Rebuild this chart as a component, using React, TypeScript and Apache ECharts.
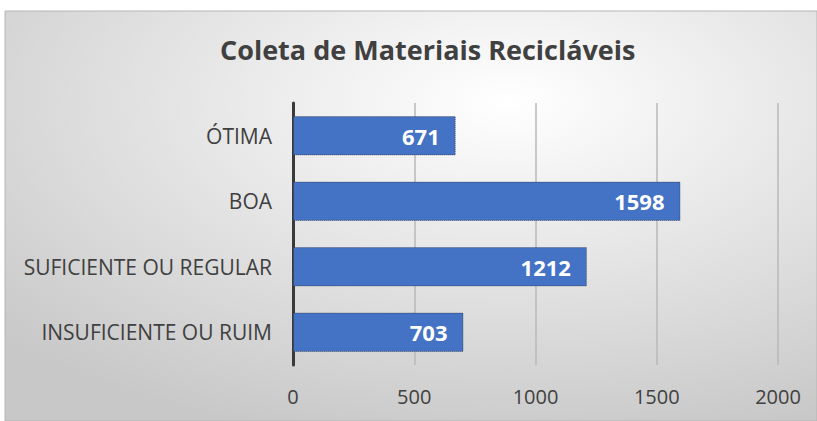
import React, { useEffect, useRef } from "react";
import * as echarts from "echarts";

const categories = ["ÓTIMA", "BOA", "SUFICIENTE OU REGULAR", "INSUFICIENTE OU RUIM"];
const values = [671, 1598, 1212, 703];
const titleText = "Coleta de Materiais Recicláveis";

const FONT = "'Open Sans', 'Noto Sans', sans-serif";

export default function App() {
  const ref = useRef<HTMLDivElement>(null);
  useEffect(() => {
    if (!ref.current) return;
    const chart = echarts.init(ref.current, undefined, { renderer: "svg" });
    chart.setOption({
      animation: false,
      backgroundColor: "#ffffff",
      graphic: [
        {
          type: "rect",
          z: -10,
          silent: true,
          shape: { x: 5, y: 11, width: 812, height: 410 },
          style: {
            fill: new echarts.graphic.RadialGradient(0.62, 0.22, 0.85, [
              { offset: 0, color: "#ffffff" },
              { offset: 1, color: "#c8c8c8" },
            ]),
            stroke: "#b5b5b5",
            lineWidth: 1,
          },
        },
      ],
      title: {
        text: titleText,
        left: 215,
        top: 31,
        textStyle: {
          fontFamily: FONT,
          fontSize: 27,
          fontWeight: "bold",
          color: "#404040",
        },
      },
      grid: { left: 293, right: 39, top: 103, bottom: 56, containLabel: false },
      xAxis: {
        type: "value",
        min: 0,
        max: 2000,
        interval: 500,
        axisLine: { show: false },
        axisTick: { show: false },
        axisLabel: {
          fontFamily: FONT,
          fontSize: 20,
          color: "#404040",
          margin: 21,
          formatter: (v: number) => String(v),
        },
        splitLine: { show: true, lineStyle: { color: "#b8b8b8", width: 1.5 } },
      },
      yAxis: {
        type: "category",
        data: categories,
        inverse: true,
        axisLine: { show: true, lineStyle: { color: "#3a3a3a", width: 3 } },
        axisTick: { show: false },
        axisLabel: { fontFamily: FONT, fontSize: 21, color: "#404040", margin: 21 },
      },
      series: [
        {
          type: "bar",
          data: values,
          barWidth: "60%",
          itemStyle: {
            color: "#4472c4",
            borderColor: "rgba(40,40,40,0.6)",
            borderWidth: 1,
            borderType: "dotted",
          },
          label: {
            show: true,
            position: "insideRight",
            distance: 16,
            color: "#ffffff",
            fontFamily: FONT,
            fontWeight: "bold",
            fontSize: 22,
          },
        },
      ],
    });
    return () => chart.dispose();
  }, []);
  return (
    <div
      ref={ref}
      style={{ position: "fixed", left: 0, top: 0, width: 817, height: 421 }}
    />
  );
}
